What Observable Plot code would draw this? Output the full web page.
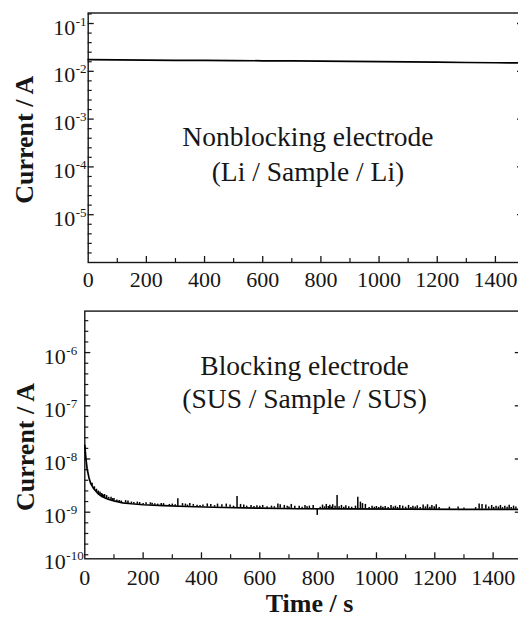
<!DOCTYPE html>
<html><head><meta charset="utf-8">
<script src="https://cdn.jsdelivr.net/npm/d3@7"></script>
<script src="https://cdn.jsdelivr.net/npm/@observablehq/plot@0.6"></script>
<style>
html,body{margin:0;padding:0;background:#fff;overflow:hidden;}
#chart svg{display:block;}
</style></head><body><div id="chart"></div>
<script>
// ---- data ----
// Nonblocking electrode (Li / Sample / Li)
const nbTime    = [0, 100, 200, 300, 400, 500, 600, 700, 800, 900, 1000, 1100, 1200, 1300, 1400, 1500];
const nbCurrent = [1.76e-2, 1.74e-2, 1.72e-2, 1.70e-2, 1.69e-2, 1.68e-2, 1.66e-2, 1.65e-2, 1.63e-2, 1.61e-2, 1.59e-2, 1.57e-2, 1.55e-2, 1.53e-2, 1.51e-2, 1.49e-2];

// Blocking electrode (SUS / Sample / SUS), smooth decay
const bTime    = [0, 4, 8, 14, 20, 30, 45, 60, 80, 100, 130, 160, 200, 270, 350, 440, 600, 730, 900, 1100, 1300, 1500];
const bCurrent = [1.8e-8, 1.0e-8, 6.5e-9, 4.5e-9, 3.5e-9, 2.8e-9, 2.25e-9, 1.95e-9, 1.75e-9, 1.63e-9, 1.5e-9, 1.44e-9, 1.38e-9, 1.33e-9, 1.28e-9, 1.24e-9, 1.19e-9, 1.16e-9, 1.15e-9, 1.14e-9, 1.13e-9, 1.13e-9];

// Blocking electrode: larger noise spikes
const spikeTime = [40, 52, 60, 68, 75, 90, 100, 140, 148, 180, 188, 225, 231, 262, 270, 319, 335, 345, 360, 372, 420, 432, 455, 470, 485, 498, 522, 534, 545, 570, 590, 610, 662, 670, 684, 694, 708, 720, 735, 755, 770, 783, 797, 815, 828, 840, 850, 865, 880, 895, 936, 945, 952, 962, 985, 1000, 1015, 1030, 1050, 1065, 1080, 1090, 1110, 1125, 1140, 1160, 1175, 1190, 1205, 1250, 1280, 1352, 1362, 1375, 1395, 1410, 1425, 1440, 1455, 1470];
const spikeLow  = [2.4e-9, 2.15e-9, 1.95e-9, 1.87e-9, 1.8e-9, 1.7e-9, 1.63e-9, 1.48e-9, 1.46e-9, 1.41e-9, 1.4e-9, 1.37e-9, 1.37e-9, 1.33e-9, 1.33e-9, 1.3e-9, 1.29e-9, 1.29e-9, 1.29e-9, 1.29e-9, 1.25e-9, 1.25e-9, 1.24e-9, 1.24e-9, 1.24e-9, 1.24e-9, 1.22e-9, 1.22e-9, 1.22e-9, 1.2e-9, 1.2e-9, 1.2e-9, 1.18e-9, 1.18e-9, 1.18e-9, 1.18e-9, 1.18e-9, 1.16e-9, 1.16e-9, 1.16e-9, 1.16e-9, 1.16e-9, 0.87e-9, 1.15e-9, 1.15e-9, 1.15e-9, 1.15e-9, 1.15e-9, 1.15e-9, 1.15e-9, 1.15e-9, 1.15e-9, 1.15e-9, 1.15e-9, 1.14e-9, 1.14e-9, 1.14e-9, 1.14e-9, 1.14e-9, 1.14e-9, 1.14e-9, 1.14e-9, 1.14e-9, 1.14e-9, 1.14e-9, 1.13e-9, 1.13e-9, 1.13e-9, 1.13e-9, 1.13e-9, 1.13e-9, 1.13e-9, 1.13e-9, 1.13e-9, 1.13e-9, 1.13e-9, 1.13e-9, 1.13e-9, 1.13e-9, 1.13e-9];
const spikeHigh = [2.7e-9, 2.4e-9, 2.2e-9, 2.15e-9, 2.05e-9, 1.9e-9, 1.8e-9, 1.65e-9, 1.62e-9, 1.55e-9, 1.52e-9, 1.5e-9, 1.48e-9, 1.46e-9, 1.45e-9, 1.78e-9, 1.45e-9, 1.42e-9, 1.45e-9, 1.4e-9, 1.43e-9, 1.4e-9, 1.42e-9, 1.38e-9, 1.42e-9, 1.36e-9, 1.97e-9, 1.4e-9, 1.36e-9, 1.34e-9, 1.32e-9, 1.34e-9, 1.43e-9, 1.38e-9, 1.34e-9, 1.3e-9, 1.4e-9, 1.3e-9, 1.3e-9, 1.34e-9, 1.3e-9, 1.34e-9, 1.16e-9, 1.36e-9, 1.4e-9, 1.35e-9, 1.38e-9, 2.06e-9, 1.34e-9, 1.32e-9, 1.91e-9, 1.55e-9, 1.45e-9, 1.4e-9, 1.3e-9, 1.28e-9, 1.3e-9, 1.28e-9, 1.34e-9, 1.3e-9, 1.34e-9, 1.3e-9, 1.34e-9, 1.3e-9, 1.32e-9, 1.36e-9, 1.38e-9, 1.34e-9, 1.38e-9, 1.24e-9, 1.25e-9, 1.43e-9, 1.4e-9, 1.36e-9, 1.34e-9, 1.3e-9, 1.34e-9, 1.3e-9, 1.35e-9, 1.3e-9];

// Blocking electrode: small noise bumps
const noiseTime = [25, 33, 46, 56, 64, 82, 95, 110, 118, 125, 160, 168, 200, 210, 240, 250, 290, 300, 310, 352, 385, 395, 405, 445, 510, 555, 580, 600, 625, 640, 650, 700, 745, 762, 807, 822, 835, 845, 858, 872, 888, 905, 915, 928, 975, 993, 1008, 1022, 1040, 1058, 1072, 1100, 1118, 1133, 1150, 1168, 1183, 1198, 1215, 1300, 1340, 1385, 1402, 1418, 1432, 1448, 1462, 1478];
const noiseLow  = [3.1e-9, 2.7e-9, 2.25e-9, 2.0e-9, 1.9e-9, 1.75e-9, 1.66e-9, 1.58e-9, 1.55e-9, 1.52e-9, 1.44e-9, 1.43e-9, 1.38e-9, 1.37e-9, 1.35e-9, 1.34e-9, 1.32e-9, 1.31e-9, 1.3e-9, 1.28e-9, 1.26e-9, 1.26e-9, 1.26e-9, 1.24e-9, 1.22e-9, 1.21e-9, 1.19e-9, 1.19e-9, 1.19e-9, 1.19e-9, 1.19e-9, 1.17e-9, 1.16e-9, 1.16e-9, 1.15e-9, 1.15e-9, 1.15e-9, 1.15e-9, 1.15e-9, 1.15e-9, 1.15e-9, 1.15e-9, 1.15e-9, 1.15e-9, 1.14e-9, 1.14e-9, 1.14e-9, 1.14e-9, 1.14e-9, 1.14e-9, 1.14e-9, 1.14e-9, 1.14e-9, 1.14e-9, 1.14e-9, 1.14e-9, 1.14e-9, 1.14e-9, 1.14e-9, 1.13e-9, 1.13e-9, 1.13e-9, 1.13e-9, 1.13e-9, 1.13e-9, 1.13e-9, 1.13e-9, 1.13e-9];
const noiseHigh = [3.5e-9, 3.0e-9, 2.5e-9, 2.25e-9, 2.1e-9, 1.9e-9, 1.8e-9, 1.7e-9, 1.66e-9, 1.62e-9, 1.55e-9, 1.52e-9, 1.46e-9, 1.5e-9, 1.44e-9, 1.42e-9, 1.4e-9, 1.42e-9, 1.38e-9, 1.36e-9, 1.35e-9, 1.33e-9, 1.36e-9, 1.33e-9, 1.3e-9, 1.3e-9, 1.28e-9, 1.3e-9, 1.27e-9, 1.3e-9, 1.27e-9, 1.25e-9, 1.24e-9, 1.26e-9, 1.24e-9, 1.26e-9, 1.28e-9, 1.25e-9, 1.3e-9, 1.26e-9, 1.24e-9, 1.27e-9, 1.24e-9, 1.3e-9, 1.22e-9, 1.24e-9, 1.22e-9, 1.24e-9, 1.22e-9, 1.25e-9, 1.23e-9, 1.24e-9, 1.22e-9, 1.25e-9, 1.23e-9, 1.26e-9, 1.24e-9, 1.27e-9, 1.23e-9, 1.2e-9, 1.22e-9, 1.25e-9, 1.23e-9, 1.25e-9, 1.22e-9, 1.24e-9, 1.22e-9, 1.25e-9];

// axes
const xMajorTicks = [0, 200, 400, 600, 800, 1000, 1200, 1400];
const xMinorTicks = [100, 300, 500, 700, 900, 1100, 1300];
const nbMajorExp = [-1, -2, -3, -4, -5];
const bMajorExp  = [-6, -7, -8, -9];
const bLabelExp  = [-6, -7, -8, -9];
const yTitle = "Current / A";
const xTitle = "Time / s";
const nbLabel = ["Nonblocking electrode", "(Li / Sample / Li)"];
const bLabel  = ["Blocking electrode", "(SUS / Sample / SUS)"];

// ---- drawing ----
const INK = "#161616";
const FONT = "'Liberation Serif', 'Times New Roman', serif";

function minorExps(lo, hi) {
  const out = [];
  for (let k = Math.ceil(lo * 5 + 1e-6); k <= Math.floor(hi * 5 - 1e-6); k++) {
    if (k % 5 !== 0) out.push(k / 5);
  }
  return out;
}

function panel(o) {
  const fw = o.width - o.ml - o.mr;
  const fh = o.height - o.mt - o.mb;
  const marks = [
    Plot.frame({stroke: INK, strokeWidth: 1.4}),
    // y ticks (inward)
    Plot.tickY(o.majorExp, {y: d => 10 ** d, insetRight: fw - 6, stroke: INK, strokeWidth: 1.3}),
    Plot.tickY(o.minorExp, {y: d => 10 ** d, insetRight: fw - 4, stroke: INK, strokeWidth: 1.2}),
    Plot.tickY(o.majorExp, {y: d => 10 ** d, insetLeft: fw - 7, stroke: INK, strokeWidth: 1.3}),
    // x ticks (inward)
    Plot.tickX(xMajorTicks.filter(d => d > 0), {x: d => d, insetTop: fh - 6, stroke: INK, strokeWidth: 1.3}),
    Plot.tickX(xMinorTicks, {x: d => d, insetTop: fh - 4, stroke: INK, strokeWidth: 1.2}),
    // y tick labels 10^n
    Plot.text(o.labelExp, {y: d => 10 ** d, frameAnchor: "left", text: () => "10", textAnchor: "end",
      lineAnchor: "bottom", dx: o.baseDx, dy: 11, fontSize: 22, fill: INK}),
    Plot.text(o.labelExp, {y: d => 10 ** d, frameAnchor: "left", text: d => String(d), textAnchor: "start",
      lineAnchor: "bottom", dx: o.baseDx + 0.5, dy: 2, fontSize: 13, fill: INK}),
    // x tick labels
    Plot.text(xMajorTicks, {x: d => d, frameAnchor: "bottom", text: d => String(d), lineAnchor: "bottom",
      dy: o.xLabelDy, fontSize: 22, fill: INK}),
    // y title
    Plot.text([yTitle], {frameAnchor: "left", rotate: -90, text: d => d, lineAnchor: "bottom", textAnchor: "middle",
      dx: o.yTitleDx, dy: o.yTitleDy, fontSize: 26, fontWeight: "bold", fill: INK}),
    // annotation
    Plot.text([o.label[0]], {frameAnchor: "top", text: d => d, lineAnchor: "bottom", dx: o.annDx, dy: o.ann1, fontSize: 27.5, fill: INK}),
    Plot.text([o.label[1]], {frameAnchor: "top", text: d => d, lineAnchor: "bottom", dx: o.annDx, dy: o.ann2, fontSize: 27.5, fill: INK}),
    ...o.extra,
    Plot.line(o.time.map((t, i) => ({t, c: o.current[i]})), {x: "t", y: "c", stroke: "#000", strokeWidth: 1.7})
  ];
  return Plot.plot({
    width: o.width, height: o.height,
    marginLeft: o.ml, marginRight: o.mr, marginTop: o.mt, marginBottom: o.mb,
    x: {domain: [0, 1500], axis: null},
    y: {type: "log", domain: o.yDomain, axis: null},
    style: {fontFamily: FONT, fontSize: "22px", color: INK, background: "#fff", overflow: "hidden"},
    marks
  });
}

const topPanel = panel({
  width: 518, height: 300, ml: 87.7, mr: -6, mt: 12.5, mb: 38,
  yDomain: [1e-6, 10 ** -0.78],
  majorExp: nbMajorExp, labelExp: nbMajorExp, minorExp: minorExps(-6, -0.78),
  baseDx: -13, xLabelDy: 24,
  yTitleDx: -54.7, yTitleDy: 2,
  label: nbLabel, annDx: 1.6, ann1: 133, ann2: 167.5,
  time: nbTime, current: nbCurrent, extra: []
});

const spikes = spikeTime.map((t, i) => ({t, lo: spikeLow[i], hi: spikeHigh[i]}));
const noise = noiseTime.map((t, i) => ({t, lo: noiseLow[i], hi: noiseHigh[i]}));
const bottomPanel = panel({
  width: 518, height: 318, ml: 84.3, mr: -3.8, mt: 10.6, mb: 59.7,
  yDomain: [10 ** -9.876, 10 ** -5.22],
  majorExp: bMajorExp, labelExp: bLabelExp, minorExp: minorExps(-9.876, -5.22),
  baseDx: -19, xLabelDy: 26,
  yTitleDx: -51.3, yTitleDy: 12,
  label: bLabel, annDx: 1, ann1: 63.4, ann2: 96.4,
  time: bTime, current: bCurrent,
  extra: [
    Plot.ruleX(noise, {x: "t", y1: "lo", y2: "hi", stroke: "#000", strokeWidth: 1.5}),
    Plot.ruleX(spikes, {x: "t", y1: "lo", y2: "hi", stroke: "#000", strokeWidth: 1.5}),
    // 10^-10 label sits at the bottom axis
    Plot.text([-10], {frameAnchor: "bottom-left", text: () => "10", textAnchor: "end", lineAnchor: "bottom", dx: -19, dy: 10, fontSize: 22, fill: INK}),
    Plot.text([-10], {frameAnchor: "bottom-left", text: d => String(d), textAnchor: "start", lineAnchor: "bottom", dx: -18.5, dy: 1, fontSize: 13, fill: INK}),
    // x title
    Plot.text([xTitle], {frameAnchor: "bottom", text: d => d, lineAnchor: "bottom", dx: 6, dy: 53, fontSize: 26, fontWeight: "bold", fill: INK})
  ]
});

const host = document.getElementById("chart");
host.appendChild(topPanel);
host.appendChild(bottomPanel);
</script>
</body></html>
